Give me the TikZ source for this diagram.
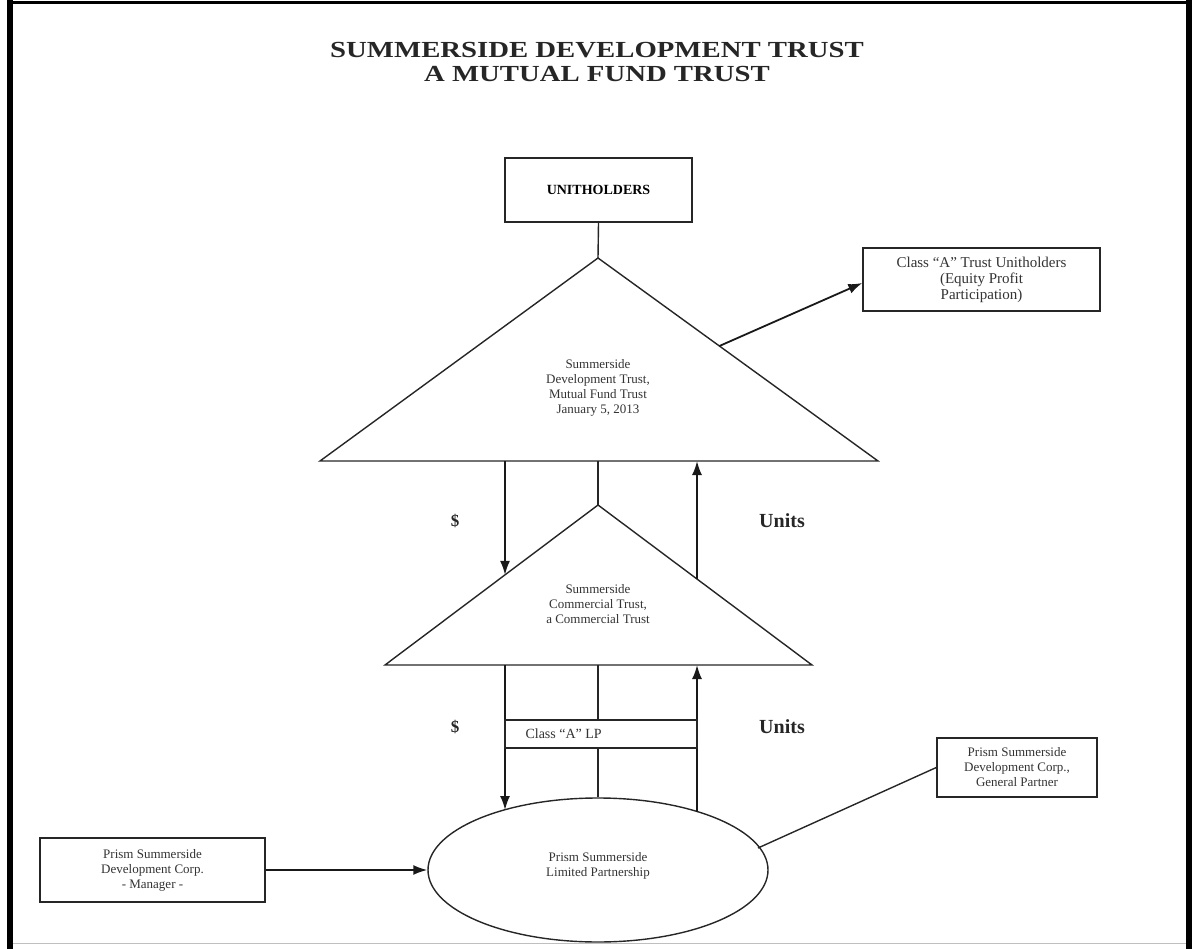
\documentclass[tikz,border=0pt]{standalone}
\usepackage{fontspec}
\setmainfont{Liberation Serif}
\usetikzlibrary{arrows.meta,shapes.geometric}
\begin{document}
\begin{tikzpicture}[x=1pt,y=-1pt,
  ln/.style={draw=black!85, line width=1.4pt},
  arr/.style={draw=black!90, line width=1.8pt, -{Latex[length=14pt,width=10pt]}},
  boxn/.style={draw=black!85, line width=1.4pt, fill=white, align=center, inner sep=0pt},
  txt/.style={align=center, font=\fontsize{13}{15}\selectfont, text=black!80},
  lbl/.style={font=\bfseries\fontsize{17}{19}\selectfont, text=black!85},
  unitlbl/.style={font=\bfseries\fontsize{20}{22}\selectfont, text=black!85}]
\useasboundingbox (0,0) rectangle (1194,949);
% page border
\draw[line width=6pt] (10,0) -- (10,949);
\draw[line width=6pt] (1189,0) -- (1189,949);
\draw[line width=3pt] (7,2.5) -- (1192,2.5);
\draw[black!25, line width=1pt] (13,943) -- (1186,943);
% title
\node[align=center, font=\bfseries\fontsize{23}{24}\selectfont, text=black!85] (title) at (597,62)
  {\scalebox{1.25}[1]{SUMMERSIDE DEVELOPMENT TRUST}\\\scalebox{1.25}[1]{A MUTUAL FUND TRUST}};
% unitholders
\node[boxn, minimum width=187pt, minimum height=64pt, font=\bfseries\fontsize{14}{16}\selectfont] (uh) at (598.5,190) {UNITHOLDERS};
% triangle 1
\coordinate (A1) at (598,258);
\coordinate (L1) at (320,461);
\coordinate (R1) at (878,461);
\draw[ln] (A1) -- (L1) -- (R1) -- cycle;
\node[txt] (t1) at (598,388) {Summerside\\Development Trust,\\Mutual Fund Trust\\January 5, 2013};
\draw[ln] (uh.south) -- (A1);
% triangle 2
\coordinate (A2) at (598,505);
\coordinate (L2) at (385,665);
\coordinate (R2) at (812,665);
\draw[ln] (A2) -- (L2) -- (R2) -- cycle;
\node[txt] (t2) at (598,604) {Summerside\\Commercial Trust,\\a Commercial Trust};
% class A trust unitholders
\node[boxn, minimum width=237pt, minimum height=63pt, font=\fontsize{15}{16}\selectfont, text=black!80] (ca) at (981.5,279.5)
  {Class ``A'' Trust Unitholders\\(Equity Profit\\Participation)};
\coordinate (c1) at (719.4,346);
\draw[arr] (c1) -- (ca.west |- 0,283) coordinate (c2);
% connectors between triangles
\coordinate (m1) at (598,461);
\draw[ln] (m1) -- (A2);
\coordinate (d1s) at (505,461);
\coordinate (d1e) at (505,574.9);
\draw[arr] (d1s) -- (d1e);
\coordinate (u1s) at (697,579);
\coordinate (u1e) at (697,461);
\draw[arr] (u1s) -- (u1e);
\node[lbl] (s1) at (455,521) {\$};
\node[unitlbl] (un1) at (782,521) {Units};
% ellipse
\node[ellipse, draw=black!85, line width=1.4pt, minimum width=340pt, minimum height=144pt, inner sep=0pt] (ell) at (598,870) {};
\node[txt] (et) at (598,866) {Prism Summerside\\Limited Partnership};
% lower connectors
\coordinate (m2) at (598,665);
\draw[ln] (m2) -- (ell.north);
\coordinate (d2s) at (505,665);
\coordinate (d2e) at (505,810);
\draw[arr] (d2s) -- (d2e);
\coordinate (u2s) at (697,811.8);
\coordinate (u2e) at (697,665);
\draw[arr] (u2s) -- (u2e);
\node[lbl] (s2) at (455,727) {\$};
\node[unitlbl] (un2) at (782,727) {Units};
% class A LP box
\node[draw=black!85, line width=1.2pt, fill=white, minimum width=192pt, minimum height=28pt, inner sep=0pt] (lp) at (601,734) {};
\node[anchor=west, font=\fontsize{14}{16}\selectfont, text=black!80] (lpt) at (522,734) {Class ``A'' LP};
% manager
\node[boxn, minimum width=225pt, minimum height=64pt, font=\fontsize{13}{15}\selectfont, text=black!80] (mg) at (152.5,870)
  {Prism Summerside\\Development Corp.\\- Manager -};
\draw[arr] (mg.east) -- (ell.west);
% general partner
\node[boxn, minimum width=160pt, minimum height=59pt, font=\fontsize{13}{15}\selectfont, text=black!80] (gp) at (1017,767.5)
  {Prism Summerside\\Development Corp.,\\General Partner};
\coordinate (g1) at (758,848);
\draw[ln] (g1) -- (gp.west);
\end{tikzpicture}
\end{document}
